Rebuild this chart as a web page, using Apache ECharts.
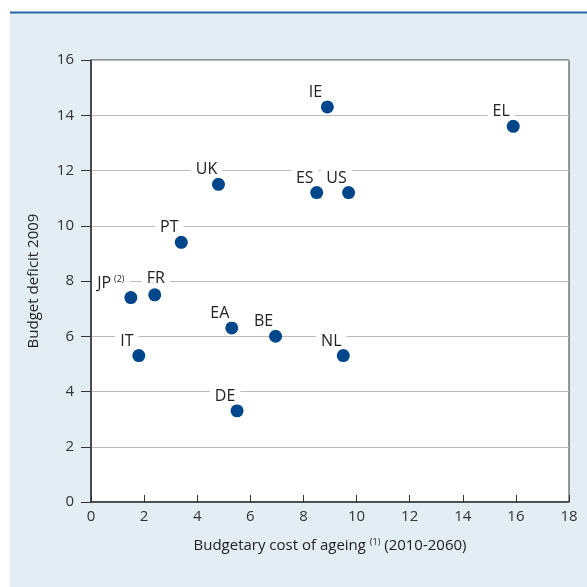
<!DOCTYPE html>
<html><head><meta charset="utf-8">
<script src="https://cdn.jsdelivr.net/npm/echarts@6/dist/echarts.min.js"></script>
<style>html,body{margin:0;padding:0;background:#fff}#c{width:587px;height:587px}</style>
</head><body><div id="c"></div>
<script>
const countries = ['IE','EL','UK','ES','US','PT','JP','FR','EA','BE','NL','IT','DE'];
const costOfAgeing = [8.9, 15.9, 4.8, 8.5, 9.7, 3.4, 1.5, 2.4, 5.3, 6.95, 9.5, 1.8, 5.5];
const budgetDeficit = [14.3, 13.6, 11.5, 11.2, 11.2, 9.4, 7.4, 7.5, 6.3, 6.0, 5.3, 5.3, 3.3];
const xTicks = [0,2,4,6,8,10,12,14,16,18];
const yTicks = [0,2,4,6,8,10,12,14,16];
const noteLabels = {JP:'(2)'};

const labelOffsets = {FR:[1,-17], JP:[-20,-15]};
const FONT = '"Open Sans", "Noto Sans", sans-serif';

const data = countries.map((c,i)=>{
  const off = labelOffsets[c] || [-12,-15];
  return {
    name: c,
    value: [costOfAgeing[i], budgetDeficit[i]],
    label: {offset: off}
  };
});

const chart = echarts.init(document.getElementById('c'));
chart.setOption({
  animation:false,
  backgroundColor:'#fff',
  graphic:[
    {type:'rect', shape:{x:10,y:12,width:577,height:575}, style:{fill:'#e2edf4'}, z:-10},
    {type:'line', shape:{x1:10,y1:12.5,x2:587,y2:12.5}, style:{stroke:'#2a65a5',lineWidth:2}, z:-9}
  ],
  grid:{left:91,right:18,top:60,bottom:85,show:true,backgroundColor:'#fff',borderColor:'#333',borderWidth:1},
  xAxis:{
    type:'value', min:xTicks[0], max:xTicks[xTicks.length-1], interval:2,
    name:'Budgetary cost of ageing {s|(1)} (2010-2060)',
    nameLocation:'middle', nameGap:36,
    nameTextStyle:{color:'#222',fontSize:15,fontFamily:FONT,rich:{s:{fontSize:9,verticalAlign:'top',color:'#222',padding:[0,0,6,0]}}},
    axisLine:{lineStyle:{color:'#333',width:1.5}},
    axisTick:{show:true,inside:true,length:7,lineStyle:{color:'#333'}},
    axisLabel:{color:'#333',fontSize:15,fontFamily:FONT,margin:7},
    splitLine:{show:false}
  },
  yAxis:{
    type:'value', min:yTicks[0], max:yTicks[yTicks.length-1], interval:2,
    name:'Budget deficit 2009', nameLocation:'middle', nameGap:50,
    nameTextStyle:{color:'#222',fontSize:15,fontFamily:FONT},
    axisLine:{show:true,lineStyle:{color:'#333',width:1.5}},
    axisTick:{show:true,inside:false,length:10,lineStyle:{color:'#333'}},
    axisLabel:{color:'#333',fontSize:15,fontFamily:FONT,margin:17},
    splitLine:{show:true,lineStyle:{color:'#bbb',width:1.2}}
  },
  series:[{
    type:'scatter',
    symbolSize:13,
    itemStyle:{color:'#00468b',opacity:1},
    data:data,
    label:{
      show:true, position:'inside',
      formatter:p=> noteLabels[p.name] ? p.name+'{s|'+noteLabels[p.name]+'}' : p.name,
      color:'#222', fontSize:16, fontFamily:FONT,
      backgroundColor:'#fff', padding:[1,5,0,5],
      rich:{s:{fontSize:9,verticalAlign:'top',color:'#222',padding:[0,0,7,3]}}
    }
  }]
});
</script></body></html>
